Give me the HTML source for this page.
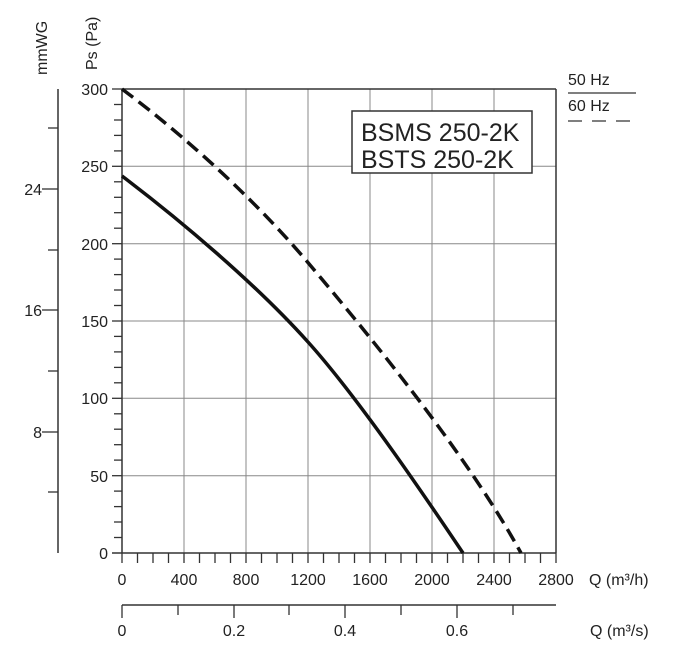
<!DOCTYPE html>
<html><head><meta charset="utf-8"><style>body{margin:0;background:#fff}svg{display:block}text{font-family:"Liberation Sans",sans-serif;fill:#222}</style></head><body>
<svg width="683" height="649" viewBox="0 0 683 649" xmlns="http://www.w3.org/2000/svg">
<g stroke="#888" stroke-width="1">
<line x1="184" y1="89" x2="184" y2="553"/><line x1="246" y1="89" x2="246" y2="553"/><line x1="308" y1="89" x2="308" y2="553"/><line x1="370" y1="89" x2="370" y2="553"/><line x1="432" y1="89" x2="432" y2="553"/><line x1="494" y1="89" x2="494" y2="553"/>
<line x1="122" y1="166.3" x2="556" y2="166.3"/><line x1="122" y1="243.7" x2="556" y2="243.7"/><line x1="122" y1="321" x2="556" y2="321"/><line x1="122" y1="398.3" x2="556" y2="398.3"/><line x1="122" y1="475.7" x2="556" y2="475.7"/>
</g>
<g stroke="#333" stroke-width="1.5" fill="none">
<line x1="122" y1="89" x2="556" y2="89"/><line x1="556" y1="89" x2="556" y2="553"/>
<line x1="122" y1="89" x2="122" y2="553"/><line x1="112" y1="553" x2="556" y2="553"/>
<line x1="58" y1="89" x2="58" y2="553"/>
<line x1="122" y1="605" x2="556" y2="605"/>
</g>
<g stroke="#333" stroke-width="1.3">
<line x1="112" y1="89" x2="122" y2="89"/><line x1="114" y1="104.5" x2="122" y2="104.5"/><line x1="114" y1="120" x2="122" y2="120"/><line x1="114" y1="135.4" x2="122" y2="135.4"/><line x1="114" y1="150.9" x2="122" y2="150.9"/><line x1="112" y1="166.3" x2="122" y2="166.3"/><line x1="114" y1="181.8" x2="122" y2="181.8"/><line x1="114" y1="197.3" x2="122" y2="197.3"/><line x1="114" y1="212.7" x2="122" y2="212.7"/><line x1="114" y1="228.2" x2="122" y2="228.2"/><line x1="112" y1="243.7" x2="122" y2="243.7"/><line x1="114" y1="259.1" x2="122" y2="259.1"/><line x1="114" y1="274.6" x2="122" y2="274.6"/><line x1="114" y1="290" x2="122" y2="290"/><line x1="114" y1="305.5" x2="122" y2="305.5"/><line x1="112" y1="321" x2="122" y2="321"/><line x1="114" y1="336.4" x2="122" y2="336.4"/><line x1="114" y1="351.9" x2="122" y2="351.9"/><line x1="114" y1="367.4" x2="122" y2="367.4"/><line x1="114" y1="382.8" x2="122" y2="382.8"/><line x1="112" y1="398.3" x2="122" y2="398.3"/><line x1="114" y1="413.8" x2="122" y2="413.8"/><line x1="114" y1="429.2" x2="122" y2="429.2"/><line x1="114" y1="444.7" x2="122" y2="444.7"/><line x1="114" y1="460.1" x2="122" y2="460.1"/><line x1="112" y1="475.7" x2="122" y2="475.7"/><line x1="114" y1="491.1" x2="122" y2="491.1"/><line x1="114" y1="506.6" x2="122" y2="506.6"/><line x1="114" y1="522" x2="122" y2="522"/><line x1="114" y1="537.5" x2="122" y2="537.5"/>
<line x1="48" y1="128" x2="58" y2="128"/><line x1="42" y1="189" x2="58" y2="189"/><line x1="48" y1="250" x2="58" y2="250"/><line x1="42" y1="310" x2="58" y2="310"/><line x1="48" y1="371" x2="58" y2="371"/><line x1="42" y1="432" x2="58" y2="432"/><line x1="48" y1="492" x2="58" y2="492"/>
<line x1="122" y1="605" x2="122" y2="618"/><line x1="178" y1="605" x2="178" y2="615"/><line x1="234" y1="605" x2="234" y2="618"/><line x1="289" y1="605" x2="289" y2="615"/><line x1="345" y1="605" x2="345" y2="618"/><line x1="401" y1="605" x2="401" y2="615"/><line x1="457" y1="605" x2="457" y2="618"/><line x1="513" y1="605" x2="513" y2="615"/>
<path d="M122 553v10M137.5 553v10M153 553v10M168.5 553v10M184 553v10M199.5 553v10M215 553v10M230.5 553v10M246 553v10M261.5 553v10M277 553v10M292.5 553v10M308 553v10M323.5 553v10M339 553v10M354.5 553v10M370 553v10M385.5 553v10M401 553v10M416.5 553v10M432 553v10M447.5 553v10M463 553v10M478.5 553v10M494 553v10M509.5 553v10M525 553v10M540.5 553v10M556 553v10"/>
</g>
<path d="M122 176 C180 220 255 283 308 342 C363 403 440 519 463 553" stroke="#111" stroke-width="3.5" fill="none"/>
<path d="M122 89 C190 140 260 205 310 265 C380 348 470 460 521 553" stroke="#111" stroke-width="3.5" fill="none" stroke-dasharray="14,7"/>
<rect x="352" y="111" width="180" height="62" fill="#fff" stroke="#333" stroke-width="1.5"/>
<text x="361" y="141" font-size="25">BSMS 250-2K</text>
<text x="361" y="168" font-size="25">BSTS 250-2K</text>
<text x="568" y="85" font-size="16">50 Hz</text>
<line x1="568" y1="93" x2="636" y2="93" stroke="#333" stroke-width="1.3"/>
<text x="568" y="111" font-size="16">60 Hz</text>
<line x1="568" y1="121" x2="636" y2="121" stroke="#333" stroke-width="1.3" stroke-dasharray="14,10"/>
<g font-size="16" text-anchor="end">
<text x="108" y="95">300</text><text x="108" y="172">250</text><text x="108" y="250">200</text><text x="108" y="327">150</text><text x="108" y="404">100</text><text x="108" y="482">50</text><text x="108" y="559">0</text>
<text x="42" y="195">24</text><text x="42" y="316">16</text><text x="42" y="438">8</text>
</g>
<g font-size="16" text-anchor="middle">
<text x="122" y="585">0</text><text x="184" y="585">400</text><text x="246" y="585">800</text><text x="308" y="585">1200</text><text x="370" y="585">1600</text><text x="432" y="585">2000</text><text x="494" y="585">2400</text><text x="556" y="585">2800</text>
<text x="122" y="636">0</text><text x="234" y="636">0.2</text><text x="345" y="636">0.4</text><text x="457" y="636">0.6</text>
</g>
<text x="589" y="585" font-size="16">Q (m³/h)</text>
<text x="590" y="636" font-size="16">Q (m³/s)</text>
<text transform="translate(47,75) rotate(-90)" font-size="16">mmWG</text>
<text transform="translate(97,70) rotate(-90)" font-size="16">Ps (Pa)</text>
</svg>
</body></html>
